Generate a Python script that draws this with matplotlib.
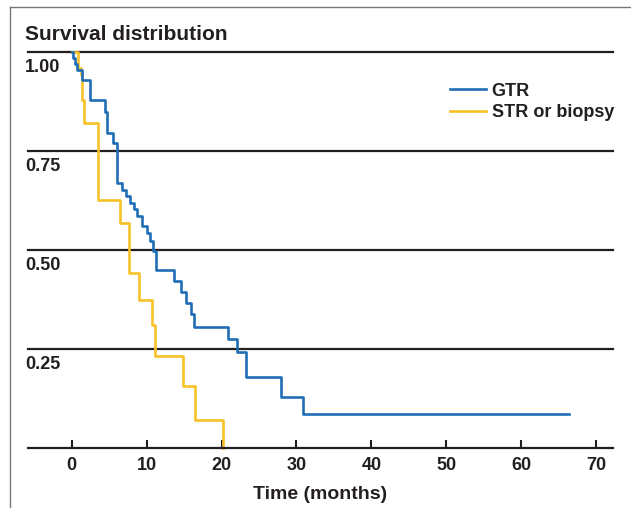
import matplotlib
matplotlib.use("Agg")
import matplotlib.pyplot as plt
import matplotlib.transforms as mtransforms
from matplotlib.lines import Line2D

plt.rcParams['font.family'] = ['Liberation Sans Narrow', 'Liberation Sans', 'DejaVu Sans']
plt.rcParams['font.weight'] = 'bold'
plt.rcParams['axes.labelweight'] = 'bold'

# Kaplan-Meier steps (months, survival)
gtr_time = [0, 0.15, 0.4, 0.7, 1.4, 2.4, 4.4, 4.7, 5.5, 6.0, 6.7, 7.2, 7.8, 8.25, 8.7,
            9.4, 10.0, 10.45, 10.9, 11.2, 13.6, 14.6, 15.3, 15.9, 16.3, 20.8, 22.1,
            23.3, 28.0, 30.9, 66.4]
gtr_surv = [1.0, 0.985, 0.97, 0.954, 0.929, 0.878, 0.848, 0.795, 0.77, 0.669, 0.651,
            0.636, 0.618, 0.603, 0.585, 0.56, 0.542, 0.522, 0.497, 0.449, 0.421, 0.394,
            0.366, 0.338, 0.307, 0.276, 0.243, 0.18, 0.129, 0.086, 0.086]

str_time = [0, 0.85, 1.2, 1.35, 1.6, 3.5, 6.4, 7.6, 9.0, 10.7, 11.1, 14.9, 16.5, 20.2]
str_surv = [1.0, 0.96, 0.94, 0.878, 0.82, 0.626, 0.567, 0.441, 0.374, 0.311, 0.233,
            0.157, 0.071, 0.0]

yticks = [0.25, 0.50, 0.75, 1.00]
ytick_labels = ['0.25', '0.50', '0.75', '1.00']
xticks = [0, 10, 20, 30, 40, 50, 60, 70]

dark = '#231f20'
blue = '#1f6db5'
yellow = '#f7c228'

fig = plt.figure(figsize=(6.31, 5.08), dpi=100)
ax = fig.add_axes([28 / 631, (508 - 448.3) / 508, 584.5 / 631, 396.6 / 508])

# horizontal rules at each survival level
for yv in yticks:
    ax.axhline(yv, color=dark, lw=1.6, clip_on=False, zorder=1)

ax.step(gtr_time, gtr_surv, where='post', color=blue, lw=1.9, label='GTR',
        clip_on=False, zorder=3)
ax.step(str_time, str_surv, where='post', color=yellow, lw=1.9, label='STR or biopsy',
        clip_on=False, zorder=2)

ax.set_xlim(-5.85, 72.2)
ax.set_ylim(0, 1.0)

for s in ['top', 'right', 'left']:
    ax.spines[s].set_visible(False)
ax.spines['bottom'].set_color(dark)
ax.spines['bottom'].set_linewidth(1.6)

ax.set_xticks(xticks)
ax.tick_params(axis='x', direction='in', length=6, width=1.5, color=dark,
               labelsize=13, labelcolor=dark, pad=6)
ax.set_yticks(yticks)
ax.set_yticklabels(ytick_labels)
ax.tick_params(axis='y', length=0, labelsize=13, labelcolor=dark, pad=2)
offset = mtransforms.ScaledTranslation(0, -5 / 72, fig.dpi_scale_trans)
for lab in ax.get_yticklabels():
    lab.set_horizontalalignment('left')
    lab.set_verticalalignment('top')
    lab.set_transform(lab.get_transform() + offset)

ax.set_xlabel('Time (months)', fontsize=14, color=dark, labelpad=9)
fig.text(25 / 631, (508 - 34) / 508, 'Survival distribution', fontsize=15,
         color=dark, ha='left', va='center')

ax.legend(loc='center left', bbox_to_anchor=(450 / 631, (508 - 102) / 508),
          bbox_transform=fig.transFigure, frameon=False, fontsize=13,
          handlelength=2.0, handletextpad=0.3, borderpad=0, borderaxespad=0,
          labelspacing=0.25, labelcolor=dark)

# thin frame on top and left of the figure
fig.add_artist(Line2D([10 / 631, 10 / 631], [0, (508 - 7) / 508], color='#777777',
                      lw=1.0, transform=fig.transFigure))
fig.add_artist(Line2D([10 / 631, 1.0], [(508 - 7) / 508, (508 - 7) / 508],
                      color='#777777', lw=1.0, transform=fig.transFigure))

fig.savefig('out.png', dpi=100)
